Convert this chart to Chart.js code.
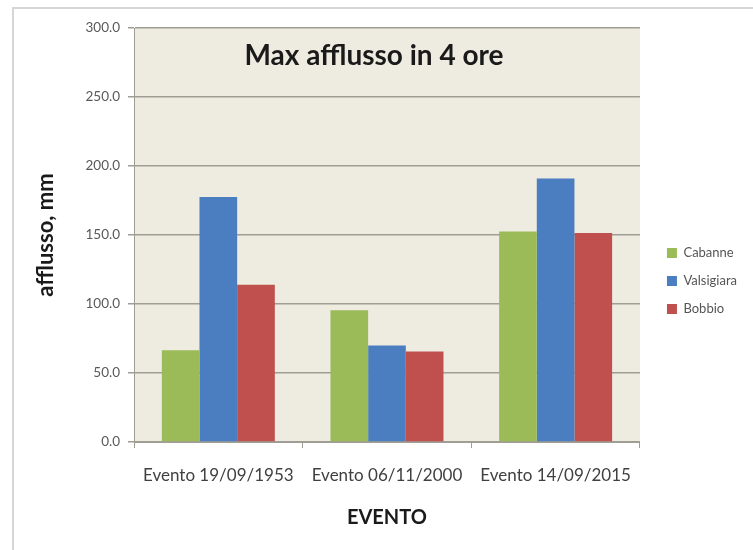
<!DOCTYPE html>
<html>
<head>
<meta charset="utf-8">
<script src="https://cdn.jsdelivr.net/npm/chart.js@4/dist/chart.umd.min.js"></script>
<style>
    body { margin: 0; background: #fff; }
    #wrap { position: relative; width: 753px; height: 550px; overflow: hidden; }
    #frame { position: absolute; left: 12px; top: 7px; width: 800px; height: 600px; border: 2px solid #d6d6d6; box-sizing: border-box; }
    canvas { position: absolute; left: 0; top: 0; }
</style>
</head>
<body>
<div id="wrap">
    <div id="frame"></div>
    <canvas id="bar-chart" width="753" height="550"></canvas>
</div>
<script>
const categories = ['Evento 19/09/1953', 'Evento 06/11/2000', 'Evento 14/09/2015'];
const cabanne = [66.5, 95.5, 152.5];
const valsigiara = [177.5, 70.0, 191.0];
const bobbio = [114.0, 65.5, 151.5];
const yTicks = [0, 50, 100, 150, 200, 250, 300];

const FONT = 'Lato, "Open Sans", sans-serif';

// sfondo beige dell'area del grafico + titolo interno
const plotBackground = {
    id: 'plotBackground',
    afterInit(chart) {
        // sposta la legenda un po' a destra, come nell'originale
        const legend = chart.legend;
        if (!legend) return;
        const origDraw = legend.draw.bind(legend);
        legend.draw = function () {
            const ctx = chart.ctx;
            ctx.save();
            ctx.translate(12, -3);
            origDraw();
            ctx.restore();
        };
    },
    beforeDraw(chart) {
        const { ctx, chartArea: a } = chart;
        ctx.save();
        ctx.fillStyle = '#eeebe0';
        ctx.fillRect(a.left, a.top, a.right - a.left, a.bottom - a.top);
        ctx.restore();
    },
    afterDraw(chart) {
        const { ctx, chartArea: a } = chart;
        ctx.save();
        ctx.font = 'bold 28px ' + FONT;
        ctx.fillStyle = '#1a1a1a';
        ctx.textAlign = 'center';
        ctx.textBaseline = 'middle';
        ctx.fillText('Max afflusso in 4 ore', 374, 56);
        ctx.restore();
    }
};

function barchart() {
    new Chart(document.getElementById('bar-chart'), {
        type: 'bar',
        data: {
            labels: categories,
            datasets: [
                { label: 'Cabanne', data: cabanne, backgroundColor: '#9bbb59' },
                { label: 'Valsigiara', data: valsigiara, backgroundColor: '#4a7ec0' },
                { label: 'Bobbio', data: bobbio, backgroundColor: '#c0504d' }
            ]
        },
        options: {
            responsive: false,
            animation: false,
            devicePixelRatio: 1,
            layout: { padding: { top: 28, right: 18, bottom: 10, left: 0 } },
            datasets: {
                bar: { categoryPercentage: 0.67, barPercentage: 1.0 }
            },
            scales: {
                x: {
                    grid: {
                        drawOnChartArea: false,
                        color: '#a09d94',
                        tickLength: 6
                    },
                    border: { color: '#a09d94' },
                    ticks: {
                        color: '#404040',
                        padding: 17,
                        font: { family: FONT, size: 17 }
                    },
                    title: {
                        display: true,
                        text: 'EVENTO',
                        color: '#1a1a1a',
                        font: { family: FONT, size: 20, weight: 'bold' },
                        padding: { top: 0, bottom: 10 }
                    },
                    afterFit(scale) { scale.height = 98; }
                },
                y: {
                    min: 0,
                    max: 300,
                    afterBuildTicks(scale) {
                        scale.ticks = yTicks.map(v => ({ value: v }));
                    },
                    grid: {
                        color: '#a09d94',
                        lineWidth: 1.5,
                        tickLength: 6
                    },
                    border: { color: '#a09d94' },
                    ticks: {
                        color: '#595959',
                        padding: 8,
                        font: { family: FONT, size: 13.5 },
                        callback: v => Number(v).toFixed(1)
                    },
                    title: {
                        display: true,
                        text: 'afflusso, mm',
                        color: '#1a1a1a',
                        font: { family: FONT, size: 22, weight: 'bold' },
                        padding: { top: 33, bottom: 0 }
                    },
                    afterFit(scale) { scale.width = 134; }
                }
            },
            plugins: {
                legend: {
                    position: 'right',
                    labels: {
                        boxWidth: 10,
                        boxHeight: 10,
                        padding: 15,
                        color: '#555555',
                        font: { family: FONT, size: 13 }
                    }
                },
                tooltip: { enabled: false }
            }
        },
        plugins: [plotBackground]
    });
}

let promise = new Promise((resolve, reject) => {
    resolve()
})

promise.then(() => {
    barchart();
})
</script>
</body>
</html>
